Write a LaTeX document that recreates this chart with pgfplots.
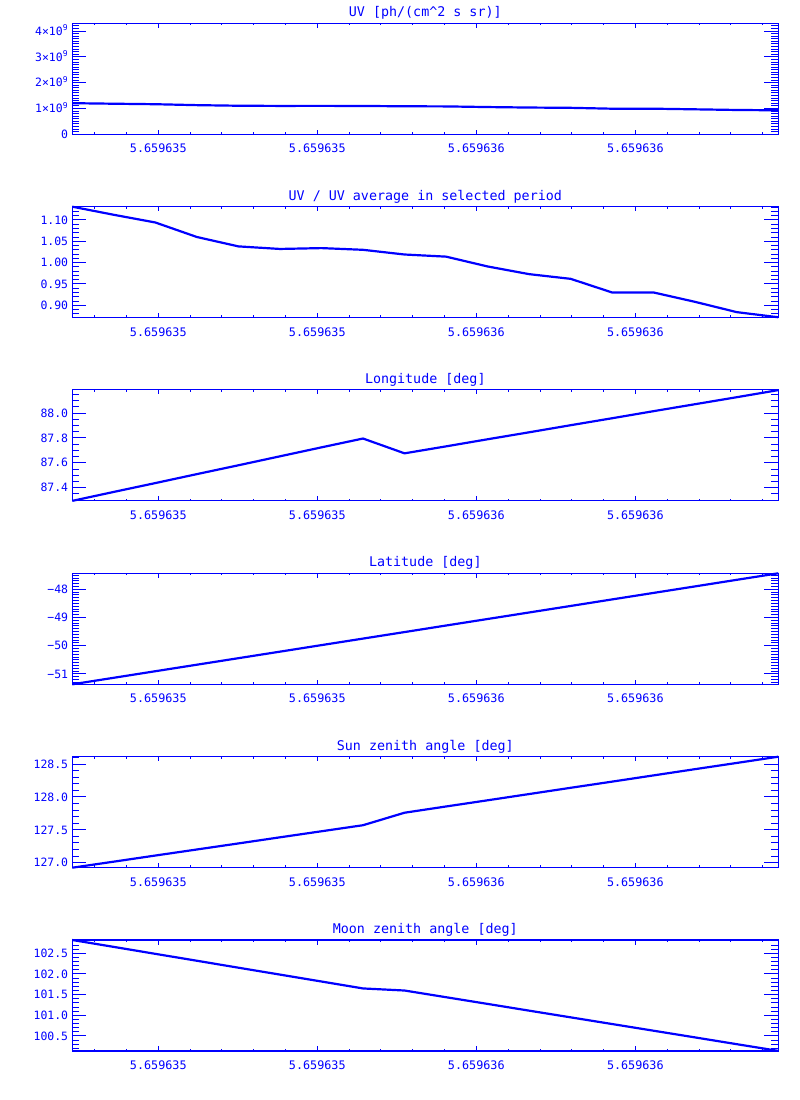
\documentclass[border=0pt]{standalone}
\usepackage{pgfplots}
\pgfplotsset{compat=1.18}
\usepackage{fontspec}
\setmainfont{DejaVu Sans Mono}
\definecolor{idl}{RGB}{0,0,255}

\pgfplotsset{
  idlbox/.style={
    scale only axis, width=706bp, height=111bp,
    anchor=south west,
    xmin=0, xmax=17,
    axis line style={draw=idl, line width=1bp},
    tick style={draw=idl, line width=1bp},
    tick align=inside,
  },
  % long y ticks, the data and the title
  ypanel/.style={
    idlbox, clip=false,
    xtick=\empty,
    major tick length=14bp, minor tick length=7bp,
    scaled y ticks=false,
    yticklabel style={font=\fontsize{11.5}{13}\selectfont, text=idl,
      anchor=base east, inner sep=0pt, xshift=-4bp, yshift=-4.2bp},
    every axis title/.style={at={(0.5,1)}, anchor=base, yshift=6.5bp,
      font=\fontsize{13.4}{15}\selectfont, text=idl},
  },
  % short x ticks, drawn over the same box
  xpanel/.style={
    idlbox, ymin=0, ymax=1, ytick=\empty,
    major tick length=4.5bp, minor tick length=2.2bp,
    xtick={2.071,5.899,9.728,13.557},
    xticklabels={5.659635,5.659635,5.659636,5.659636},
    minor xtick={0.539,1.305,...,16.7},
    xticklabel style={font=\fontsize{11.8}{13}\selectfont, text=idl,
      anchor=base, yshift=-18.5bp},
  },
}

\begin{document}
\begin{tikzpicture}
\useasboundingbox (0,0) rectangle (800bp,1100bp);

% UV, in units of 1e9
\begin{axis}[ypanel, at={(72.3bp,965.7bp)},
  ymin=0, ymax=4.3,
  ytick={0,1,2,3,4},
  yticklabels={0,1×10\textsuperscript{9},2×10\textsuperscript{9},3×10\textsuperscript{9},4×10\textsuperscript{9}},
  minor ytick={0,0.1,...,4.3},
  title={UV [ph/(cm\^{}2 s sr)]}]
\addplot[idl, line width=2.2bp] coordinates {
 (0,1.205) (1,1.184) (2,1.165) (3,1.129) (4,1.106) (5,1.099)
 (6,1.101) (7,1.097) (8,1.085) (9,1.080) (10,1.055) (11,1.036)
 (12,1.025) (13,0.991) (14,0.991) (15,0.967) (16,0.942) (17,0.929)};
\end{axis}
\begin{axis}[xpanel, at={(72.3bp,965.7bp)}]\end{axis}

% UV / average
\begin{axis}[ypanel, at={(72.3bp,782.3bp)},
  ymin=0.871, ymax=1.131,
  ytick={0.90,0.95,1.00,1.05,1.10},
  yticklabels={0.90,0.95,1.00,1.05,1.10},
  minor ytick={0.88,0.89,...,1.135},
  title={UV / UV average in selected period}]
\addplot[idl, line width=2.2bp] coordinates {
 (0,1.131) (1,1.112) (2,1.094) (3,1.060) (4,1.038) (5,1.032)
 (6,1.034) (7,1.030) (8,1.019) (9,1.014) (10,0.991) (11,0.973)
 (12,0.962) (13,0.930) (14,0.930) (15,0.908) (16,0.884) (17,0.872)};
\end{axis}
\begin{axis}[xpanel, at={(72.3bp,782.3bp)}]\end{axis}

% Longitude
\begin{axis}[ypanel, at={(72.3bp,599bp)},
  ymin=87.293, ymax=88.185,
  ytick={87.4,87.6,87.8,88.0},
  yticklabels={87.4,87.6,87.8,88.0},
  minor ytick={87.3,87.35,...,88.19},
  title={Longitude [deg]}]
\addplot[idl, line width=2.2bp] coordinates {
 (0,87.294) (1,87.366) (2,87.437) (3,87.509) (4,87.580) (5,87.652)
 (6,87.724) (7,87.795) (8,87.676) (9,87.732) (10,87.789) (11,87.845)
 (12,87.902) (13,87.958) (14,88.015) (15,88.071) (16,88.127) (17,88.184)};
\end{axis}
\begin{axis}[xpanel, at={(72.3bp,599bp)}]\end{axis}

% Latitude
\begin{axis}[ypanel, at={(72.3bp,415.7bp)},
  ymin=-51.365, ymax=-47.433,
  ytick={-51,-50,-49,-48},
  yticklabels={−51,−50,−49,−48},
  minor ytick={-51.3,-51.2,...,-47.45},
  title={Latitude [deg]}]
\addplot[idl, line width=2.2bp] coordinates {
 (0,-51.365) (1,-51.134) (2,-50.902) (3,-50.671) (4,-50.440) (5,-50.209)
 (6,-49.977) (7,-49.746) (8,-49.515) (9,-49.283) (10,-49.052) (11,-48.821)
 (12,-48.590) (13,-48.358) (14,-48.127) (15,-47.896) (16,-47.664) (17,-47.433)};
\end{axis}
\begin{axis}[xpanel, at={(72.3bp,415.7bp)}]\end{axis}

% Sun zenith angle
\begin{axis}[ypanel, at={(72.3bp,232.3bp)},
  ymin=126.924, ymax=128.612,
  ytick={127.0,127.5,128.0,128.5},
  yticklabels={127.0,127.5,128.0,128.5},
  minor ytick={127.0,127.1,...,128.61},
  title={Sun zenith angle [deg]}]
\addplot[idl, line width=2.2bp] coordinates {
 (0,126.924) (1,127.016) (2,127.109) (3,127.201) (4,127.293) (5,127.386)
 (6,127.478) (7,127.570) (8,127.760) (9,127.855) (10,127.949) (11,128.044)
 (12,128.139) (13,128.233) (14,128.328) (15,128.423) (16,128.517) (17,128.612)};
\end{axis}
\begin{axis}[xpanel, at={(72.3bp,232.3bp)}]\end{axis}

% Moon zenith angle
\begin{axis}[ypanel, at={(72.3bp,49bp)},
  ymin=100.137, ymax=102.822,
  ytick={100.5,101.0,101.5,102.0,102.5},
  yticklabels={100.5,101.0,101.5,102.0,102.5},
  minor ytick={100.2,100.3,...,102.81},
  title={Moon zenith angle [deg]}]
\addplot[idl, line width=2.2bp] coordinates {
 (0,102.822) (1,102.655) (2,102.487) (3,102.320) (4,102.152) (5,101.985)
 (6,101.818) (7,101.650) (8,101.600) (9,101.438) (10,101.276) (11,101.113)
 (12,100.951) (13,100.789) (14,100.627) (15,100.465) (16,100.302) (17,100.140)};
\end{axis}
\begin{axis}[xpanel, at={(72.3bp,49bp)}]\end{axis}

\end{tikzpicture}
\end{document}
